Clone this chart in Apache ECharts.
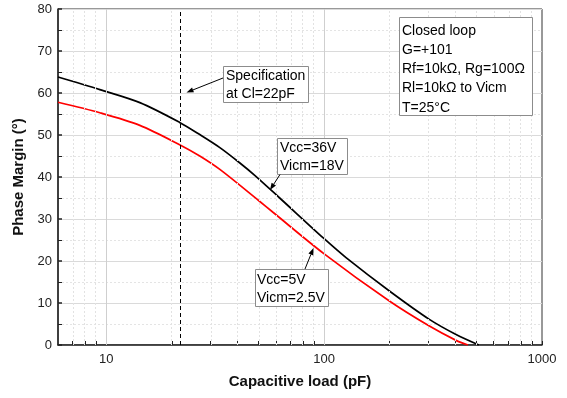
<!DOCTYPE html>
<html><head><meta charset="utf-8">
<script src="https://cdn.jsdelivr.net/npm/echarts@6/dist/echarts.min.js"></script>
<style>html,body{margin:0;padding:0;background:#fff}#c{width:567px;height:398px}</style>
</head><body><div id="c"></div>
<script>
// ---- data ----
const blackC  = [6, 9.34, 14.25, 21.7, 26.85, 33.2, 40.9, 48, 62.5, 100, 126, 200, 304, 403, 513];
const blackPM = [63.8, 60.8, 57.7, 53.0, 50.1, 47.0, 43.4, 40.4, 35.0, 25.3, 20.8, 12.8, 6.1, 2.5, 0];
const redC    = [6, 9.34, 14.25, 21.7, 26.85, 33.2, 50, 58.2, 100, 200, 304, 403, 457];
const redPM   = [57.8, 55.3, 52.3, 47.7, 45.0, 41.8, 34.4, 31.6, 21.7, 10.4, 4.5, 1.1, 0];
const xLabelValues = [10, 100, 1000];
const xTickValues  = [7, 8, 9, 10, 20, 30, 40, 50, 60, 70, 80, 90, 100, 200, 300, 400, 500, 600, 700, 800, 900, 1000];
const xMajorGrid   = [10, 100];
const xMinorGrid   = [7, 8, 9, 20, 30, 40, 50, 60, 70, 80, 90, 200, 300, 400, 500, 600, 700, 800, 900];
const xMin = 6, xMax = 1000;
const yMin = 0, yMax = 80, yStep = 10;
const specC = 22;
const blackName = 'Vcc=36V, Vicm=18V';
const redName = 'Vcc=5V, Vicm=2.5V';

const L = Math.log10;
const FONT = '"Liberation Sans", Arial, sans-serif';
const toPts = (cs, vs) => cs.map((c, i) => [L(c), vs[i]]);

const chart = echarts.init(document.getElementById('c'), null, {renderer: 'canvas'});

function box(x, y, w, h, lines, tx, ty, lh) {
  return [
    {type: 'rect', z: 100, shape: {x: x + 0.5, y: y + 0.5, width: w, height: h},
     style: {fill: '#fff', stroke: '#8c8c8c', lineWidth: 1}},
    {type: 'text', z: 101, style: {text: lines.join('\n'), x: tx, y: ty, fill: '#000',
     fontSize: 14, fontFamily: FONT, lineHeight: lh, verticalAlign: 'top'}}
  ];
}
function arrow(x1, y1, x2, y2) {
  const a = Math.atan2(y2 - y1, x2 - x1), len = 7, hw = 2.6;
  const bx = x2 - len * Math.cos(a), by = y2 - len * Math.sin(a);
  const px = -Math.sin(a) * hw, py = Math.cos(a) * hw;
  return [
    {type: 'line', z: 100, shape: {x1: x1, y1: y1, x2: bx, y2: by}, style: {stroke: '#000', lineWidth: 1}},
    {type: 'polygon', z: 100, shape: {points: [[x2, y2], [bx + px, by + py], [bx - px, by - py]]}, style: {fill: '#000'}}
  ];
}

const graphics = [].concat(
  box(399, 17, 133, 98, ['Closed loop', 'G=+101', 'Rf=10k\u03A9, Rg=100\u03A9', 'Rl=10k\u03A9 to Vicm', 'T=25\u00B0C'], 402, 21, 19.3),
  box(223, 66, 85, 36, ['Specification', 'at Cl=22pF'], 226, 67, 18),
  box(277, 138, 70, 36, ['Vcc=36V', 'Vicm=18V'], 280, 139, 18),
  box(255, 269, 73, 37, ['Vcc=5V', 'Vicm=2.5V'], 257, 271, 18),
  arrow(223, 78, 186.5, 92.5),
  arrow(280, 174.5, 270, 190),
  arrow(305, 269, 313.5, 248)
);

const option = {
  backgroundColor: '#fff',
  animation: false,
  textStyle: {fontFamily: FONT},
  grid: {left: 58, right: 25, top: 9, bottom: 53, show: true, borderColor: '#333', borderWidth: 1, containLabel: false},
  xAxis: {
    type: 'value', min: L(xMin), max: L(xMax),
    name: 'Capacitive load (pF)', nameLocation: 'middle', nameGap: 29,
    nameTextStyle: {fontSize: 15, fontWeight: 'bold', color: '#111', fontFamily: FONT},
    axisLine: {show: true, onZero: false, lineStyle: {color: '#222', width: 1.5}},
    axisTick: {show: true, inside: true, length: 4, customValues: xTickValues.map(L), lineStyle: {color: '#222', width: 1}},
    axisLabel: {show: true, margin: 8, fontSize: 13, color: '#222', fontFamily: FONT,
      customValues: xLabelValues.map(L), formatter: v => String(Math.round(Math.pow(10, v)))},
    splitLine: {show: false}
  },
  yAxis: {
    type: 'value', min: yMin, max: yMax, interval: yStep,
    name: 'Phase Margin (\u00B0)', nameLocation: 'middle', nameGap: 25,
    nameTextStyle: {fontSize: 15, fontWeight: 'bold', color: '#111', fontFamily: FONT},
    axisLine: {show: true, lineStyle: {color: '#222', width: 1.5}},
    axisTick: {show: true, inside: true, length: 4, lineStyle: {color: '#222', width: 1.5}},
    minorTick: {show: true, splitNumber: 2, length: 4, lineStyle: {color: '#222', width: 1}},
    axisLabel: {margin: 6, fontSize: 13, color: '#222', fontFamily: FONT},
    splitLine: {show: true, lineStyle: {color: '#dadada', width: 1}},
    minorSplitLine: {show: true, lineStyle: {color: '#e4e4e4', width: 1, type: [2, 2]}}
  },
  graphic: graphics,
  series: [
    {
      type: 'line', name: 'grid', data: [], z: 1, silent: true,
      markLine: {
        silent: true, symbol: ['none', 'none'], label: {show: false}, animation: false,
        data: xMajorGrid.map(v => ({xAxis: L(v), lineStyle: {color: '#cfcfcf', width: 1, type: 'solid'}}))
          .concat(xMinorGrid.map(v => ({xAxis: L(v), lineStyle: {color: '#e2e2e2', width: 1, type: [2, 2]}})))
      }
    },
    {
      type: 'line', name: blackName, data: toPts(blackC, blackPM), smooth: 0.3,
      showSymbol: false, symbol: 'none', lineStyle: {color: '#000', width: 1.7}, z: 3,
      markLine: {
        silent: true, symbol: ['none', 'none'], label: {show: false}, animation: false,
        data: [{xAxis: L(specC), lineStyle: {color: '#000', width: 1, type: [4, 3]}}]
      }
    },
    {
      type: 'line', name: redName, data: toPts(redC, redPM), smooth: 0.3,
      showSymbol: false, symbol: 'none', lineStyle: {color: '#ff0000', width: 1.7}, z: 3
    }
  ]
};
chart.setOption(option);
</script>
</body></html>
